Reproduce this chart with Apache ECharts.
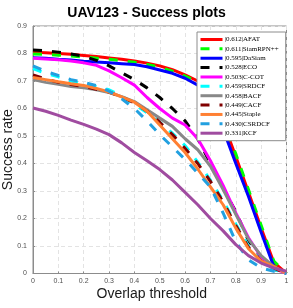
<!DOCTYPE html>
<html>
<head>
<meta charset="utf-8">
<script src="https://cdn.jsdelivr.net/npm/echarts@6/dist/echarts.min.js"></script>
<style>html,body{margin:0;padding:0;background:#fff}#c{width:293px;height:308px}</style>
</head>
<body>
<div id="c"></div>
<script>
const thresholds = [0,0.05,0.1,0.15,0.2,0.25,0.3,0.35,0.4,0.45,0.5,0.55,0.6,0.65,0.7,0.75,0.8,0.85,0.9,0.95,1];
const xTickLabels = ['0','0.1','0.2','0.3','0.4','0.5','0.6','0.7','0.8','0.9','1'];
const yTickLabels = ['0','0.1','0.2','0.3','0.4','0.5','0.6','0.7','0.8','0.9'];

const trackers = ['AFAT','SiamRPN++','DaSiam','ECO','C-COT','SRDCF','BACF','CACF','Staple','CSRDCF','KCF'];
const aucScores = ['0.612','0.611','0.595','0.528','0.503','0.459','0.458','0.449','0.445','0.430','0.331'];

const AFAT     = [0.805,0.803,0.800,0.797,0.793,0.789,0.784,0.779,0.773,0.765,0.755,0.741,0.722,0.700,0.648,0.550,0.425,0.295,0.165,0.040,0.000];
const SiamRPN  = [0.798,0.797,0.794,0.791,0.787,0.783,0.779,0.774,0.768,0.760,0.750,0.736,0.718,0.695,0.648,0.555,0.435,0.305,0.175,0.045,0.000];
const DaSiam   = [0.785,0.783,0.779,0.776,0.772,0.769,0.766,0.763,0.760,0.752,0.740,0.728,0.710,0.685,0.635,0.525,0.400,0.280,0.150,0.025,0.000];
const ECO      = [0.813,0.810,0.805,0.798,0.790,0.775,0.755,0.730,0.705,0.675,0.640,0.600,0.555,0.490,0.400,0.310,0.225,0.120,0.060,0.015,0.000];
const CCOT     = [0.783,0.780,0.777,0.773,0.766,0.757,0.737,0.712,0.685,0.640,0.600,0.565,0.540,0.490,0.410,0.320,0.220,0.130,0.060,0.020,0.000];
const SRDCF    = [0.745,0.728,0.715,0.700,0.690,0.680,0.668,0.645,0.615,0.585,0.550,0.510,0.465,0.405,0.340,0.265,0.180,0.100,0.045,0.015,0.000];
const BACF     = [0.705,0.695,0.688,0.680,0.675,0.668,0.658,0.643,0.625,0.595,0.565,0.535,0.490,0.450,0.390,0.305,0.215,0.125,0.065,0.025,0.000];
const CACF     = [0.722,0.708,0.695,0.687,0.680,0.670,0.660,0.642,0.620,0.590,0.550,0.505,0.455,0.400,0.335,0.260,0.175,0.095,0.045,0.020,0.000];
const Staple   = [0.713,0.705,0.697,0.690,0.684,0.673,0.660,0.642,0.623,0.590,0.540,0.490,0.440,0.380,0.315,0.250,0.165,0.090,0.045,0.025,0.000];
const CSRDCF   = [0.755,0.735,0.720,0.705,0.695,0.683,0.663,0.635,0.600,0.555,0.505,0.460,0.415,0.365,0.315,0.220,0.115,0.050,0.020,0.008,0.000];
const KCF      = [0.602,0.590,0.575,0.558,0.542,0.525,0.505,0.475,0.440,0.410,0.378,0.340,0.295,0.250,0.200,0.155,0.105,0.065,0.038,0.020,0.008];

const seriesValues = [AFAT,SiamRPN,DaSiam,ECO,CCOT,SRDCF,BACF,CACF,Staple,CSRDCF,KCF];
const colors = ['#ff0000','#00ff00','#0000ff','#000000','#ff00ff','#00ffff','#888888','#800000','#ff8033','#22a0e0','#a04ca0'];
const dashed = [false,true,false,true,false,true,false,true,false,true,false];

const series = trackers.map((name, i) => ({
  name: name,
  type: 'line',
  symbol: 'none',
  showSymbol: false,
  smooth: false,
  data: thresholds.map((t, j) => [t, seriesValues[i][j]]),
  lineStyle: { color: colors[i], width: 3, type: dashed[i] ? [9, 10] : 'solid', cap: 'butt' },
  itemStyle: { color: colors[i] },
  emphasis: { disabled: true }
}));

const chart = echarts.init(document.getElementById('c'), null, { renderer: 'canvas' });
chart.setOption({
  animation: false,
  backgroundColor: '#ffffff',
  title: {
    text: 'UAV123 - Success plots',
    left: 'center',
    top: 6,
    padding: 0,
    textStyle: { fontFamily: 'Liberation Sans', fontWeight: 'bold', fontSize: 14, color: '#000' }
  },
  grid: { left: 33, right: 6.5, top: 26, bottom: 34.5, containLabel: false, outerBoundsMode: 'none',
    show: true, borderColor: '#8c8c8c', borderWidth: 1, backgroundColor: 'transparent' },
  xAxis: {
    type: 'value', min: 0, max: 1, interval: 0.1,
    name: 'Overlap threshold', nameLocation: 'middle', nameGap: 13.5, nameMoveOverlap: false,
    nameTextStyle: { fontFamily: 'Liberation Sans', fontSize: 14, color: '#1a1a1a', verticalAlign: 'top', padding: [0, 16, 0, 0] },
    axisLine: { show: true, lineStyle: { color: '#8c8c8c', width: 1 } },
    axisTick: { show: true, inside: true, length: 2, lineStyle: { color: '#8c8c8c' } },
    axisLabel: { fontFamily: 'Liberation Sans', fontSize: 7, color: '#505050', margin: 4,
      formatter: v => xTickLabels[Math.round(v * 10)] },
    splitLine: { show: true, lineStyle: { color: '#e3e3e3', type: [4, 3], width: 1 } }
  },
  yAxis: {
    type: 'value', min: 0, max: 0.9, interval: 0.1,
    name: 'Success rate', nameLocation: 'middle', nameGap: 18, nameRotate: 90, nameMoveOverlap: false,
    nameTextStyle: { fontFamily: 'Liberation Sans', fontSize: 14, color: '#1a1a1a' },
    axisLine: { show: true, lineStyle: { color: '#8c8c8c', width: 1 } },
    axisTick: { show: true, inside: true, length: 2, lineStyle: { color: '#8c8c8c' } },
    axisLabel: { fontFamily: 'Liberation Sans', fontSize: 7, color: '#505050', margin: 6,
      formatter: v => yTickLabels[Math.round(v * 10)] },
    splitLine: { show: true, lineStyle: { color: '#e3e3e3', type: [4, 3], width: 1 } }
  },
  legend: {
    orient: 'vertical',
    left: 197, top: 32,
    padding: [3, 7, 3, 2],
    itemWidth: 22, itemHeight: 9, itemGap: 0.37,
    backgroundColor: '#ffffff',
    borderColor: '#8c8c8c', borderWidth: 1, borderRadius: 0,
    selectedMode: false,
    data: trackers,
    itemStyle: { opacity: 0 },
    lineStyle: { width: 3 },
    formatter: name => '|' + aucScores[trackers.indexOf(name)] + '|' + name,
    textStyle: { fontFamily: 'Liberation Serif', fontSize: 7, color: '#000', lineHeight: 9, padding: [0, 0, 0, -3] }
  },
  series: series
});
</script>
</body>
</html>
